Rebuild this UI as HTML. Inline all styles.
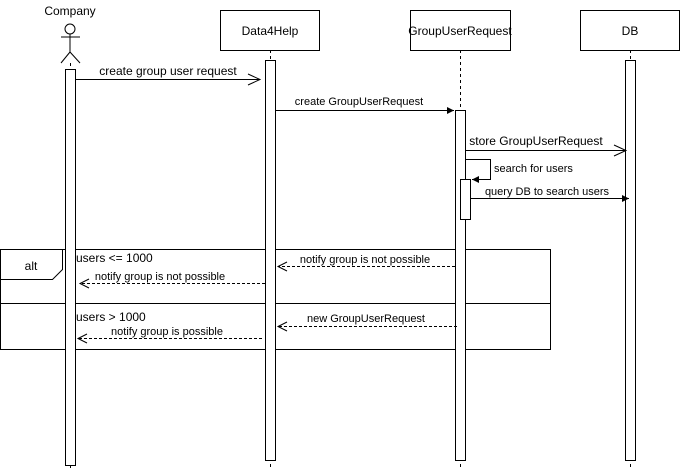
<!DOCTYPE html>
<html><head><style>body{margin:0;background:#fff}svg{display:block}text{font-family:"Liberation Sans",sans-serif;fill:#000}</style></head>
<body>
<svg width="681" height="470" viewBox="0 0 681 470" xmlns="http://www.w3.org/2000/svg">
<defs>
<marker id="f" markerWidth="8" markerHeight="8" refX="7" refY="4" orient="auto" markerUnits="userSpaceOnUse"><path d="M0,0.5 L7,4 L0,7.5 Z" fill="#000"/></marker>
</defs>
<g stroke="#000" fill="none" stroke-width="1">
<!-- actor -->
<circle cx="70" cy="29" r="5" fill="#fff"/>
<line x1="70" y1="34" x2="70" y2="52"/>
<line x1="61" y1="37" x2="80" y2="37"/>
<line x1="70" y1="52" x2="61" y2="63"/>
<line x1="70" y1="52" x2="80" y2="63"/>
<!-- boxes -->
<rect x="220.5" y="10.5" width="99" height="40" fill="#fff"/>
<rect x="410.5" y="10.5" width="100" height="40" fill="#fff"/>
<rect x="580.5" y="10.5" width="99" height="40" fill="#fff"/>
<!-- lifelines -->
<g stroke-dasharray="3,3">
<line x1="70.5" y1="63" x2="70.5" y2="470"/>
<line x1="270.5" y1="50" x2="270.5" y2="470"/>
<line x1="460.5" y1="50" x2="460.5" y2="470"/>
<line x1="630.5" y1="50" x2="630.5" y2="470"/>
</g>
<!-- frame -->
<rect x="0.5" y="249.5" width="550" height="100" fill="#fff"/>
<path d="M0.5,279.5 H52.5 L62.5,269.5 V249.5"/>
<line x1="0" y1="303.5" x2="551" y2="303.5"/>
<!-- activations -->
<rect x="65.5" y="69.5" width="10" height="396" fill="#fff"/>
<rect x="265.5" y="60.5" width="10" height="400" fill="#fff"/>
<rect x="455.5" y="110.5" width="10" height="350" fill="#fff"/>
<rect x="460.5" y="179.5" width="10" height="40" fill="#fff"/>
<rect x="625.5" y="60.5" width="10" height="400" fill="#fff"/>
<!-- messages -->
<line x1="76" y1="79.5" x2="260" y2="79.5"/>
<path d="M248,74 L260,79.5 L248,85"/>
<line x1="276" y1="110.5" x2="454" y2="110.5" marker-end="url(#f)"/>
<line x1="466" y1="150.5" x2="626" y2="150.5"/>
<path d="M614,145 L626,150.5 L614,156"/>
<path d="M466,159.5 H490.5 V179.5 H472" marker-end="url(#f)"/>
<line x1="471" y1="198.5" x2="629" y2="198.5" marker-end="url(#f)"/>
<g stroke-dasharray="3,2">
<line x1="455" y1="266.5" x2="278" y2="266.5"/>
<line x1="265" y1="283.5" x2="80" y2="283.5"/>
<line x1="457" y1="326.5" x2="278" y2="326.5"/>
<line x1="262" y1="338.5" x2="78" y2="338.5"/>
</g>
<path d="M287,262 L278,266.5 L287,271"/>
<path d="M89,279 L80,283.5 L89,288"/>
<path d="M287,322 L278,326.5 L287,331"/>
<path d="M87,334 L78,338.5 L87,343"/>
</g>
<g font-size="12">
<text x="70" y="15" text-anchor="middle">Company</text>
<text x="270" y="35" text-anchor="middle">Data4Help</text>
<text x="460" y="35" text-anchor="middle">GroupUserRequest</text>
<text x="630" y="35" text-anchor="middle">DB</text>
<text x="168" y="75" text-anchor="middle">create group user request</text>
<text x="536" y="145" text-anchor="middle">store GroupUserRequest</text>
<text x="31" y="270" text-anchor="middle">alt</text>
<text x="76" y="262">users &lt;= 1000</text>
<text x="76" y="321">users &gt; 1000</text>
</g>
<g font-size="11">
<text x="359" y="105" text-anchor="middle">create GroupUserRequest</text>
<text x="494" y="172">search for users</text>
<text x="547" y="195" text-anchor="middle">query DB to search users</text>
<text x="365" y="263" text-anchor="middle">notify group is not possible</text>
<text x="160" y="280" text-anchor="middle">notify group is not possible</text>
<text x="366" y="322" text-anchor="middle">new GroupUserRequest</text>
<text x="167" y="335" text-anchor="middle">notify group is possible</text>
</g>
</svg>
</body></html>
